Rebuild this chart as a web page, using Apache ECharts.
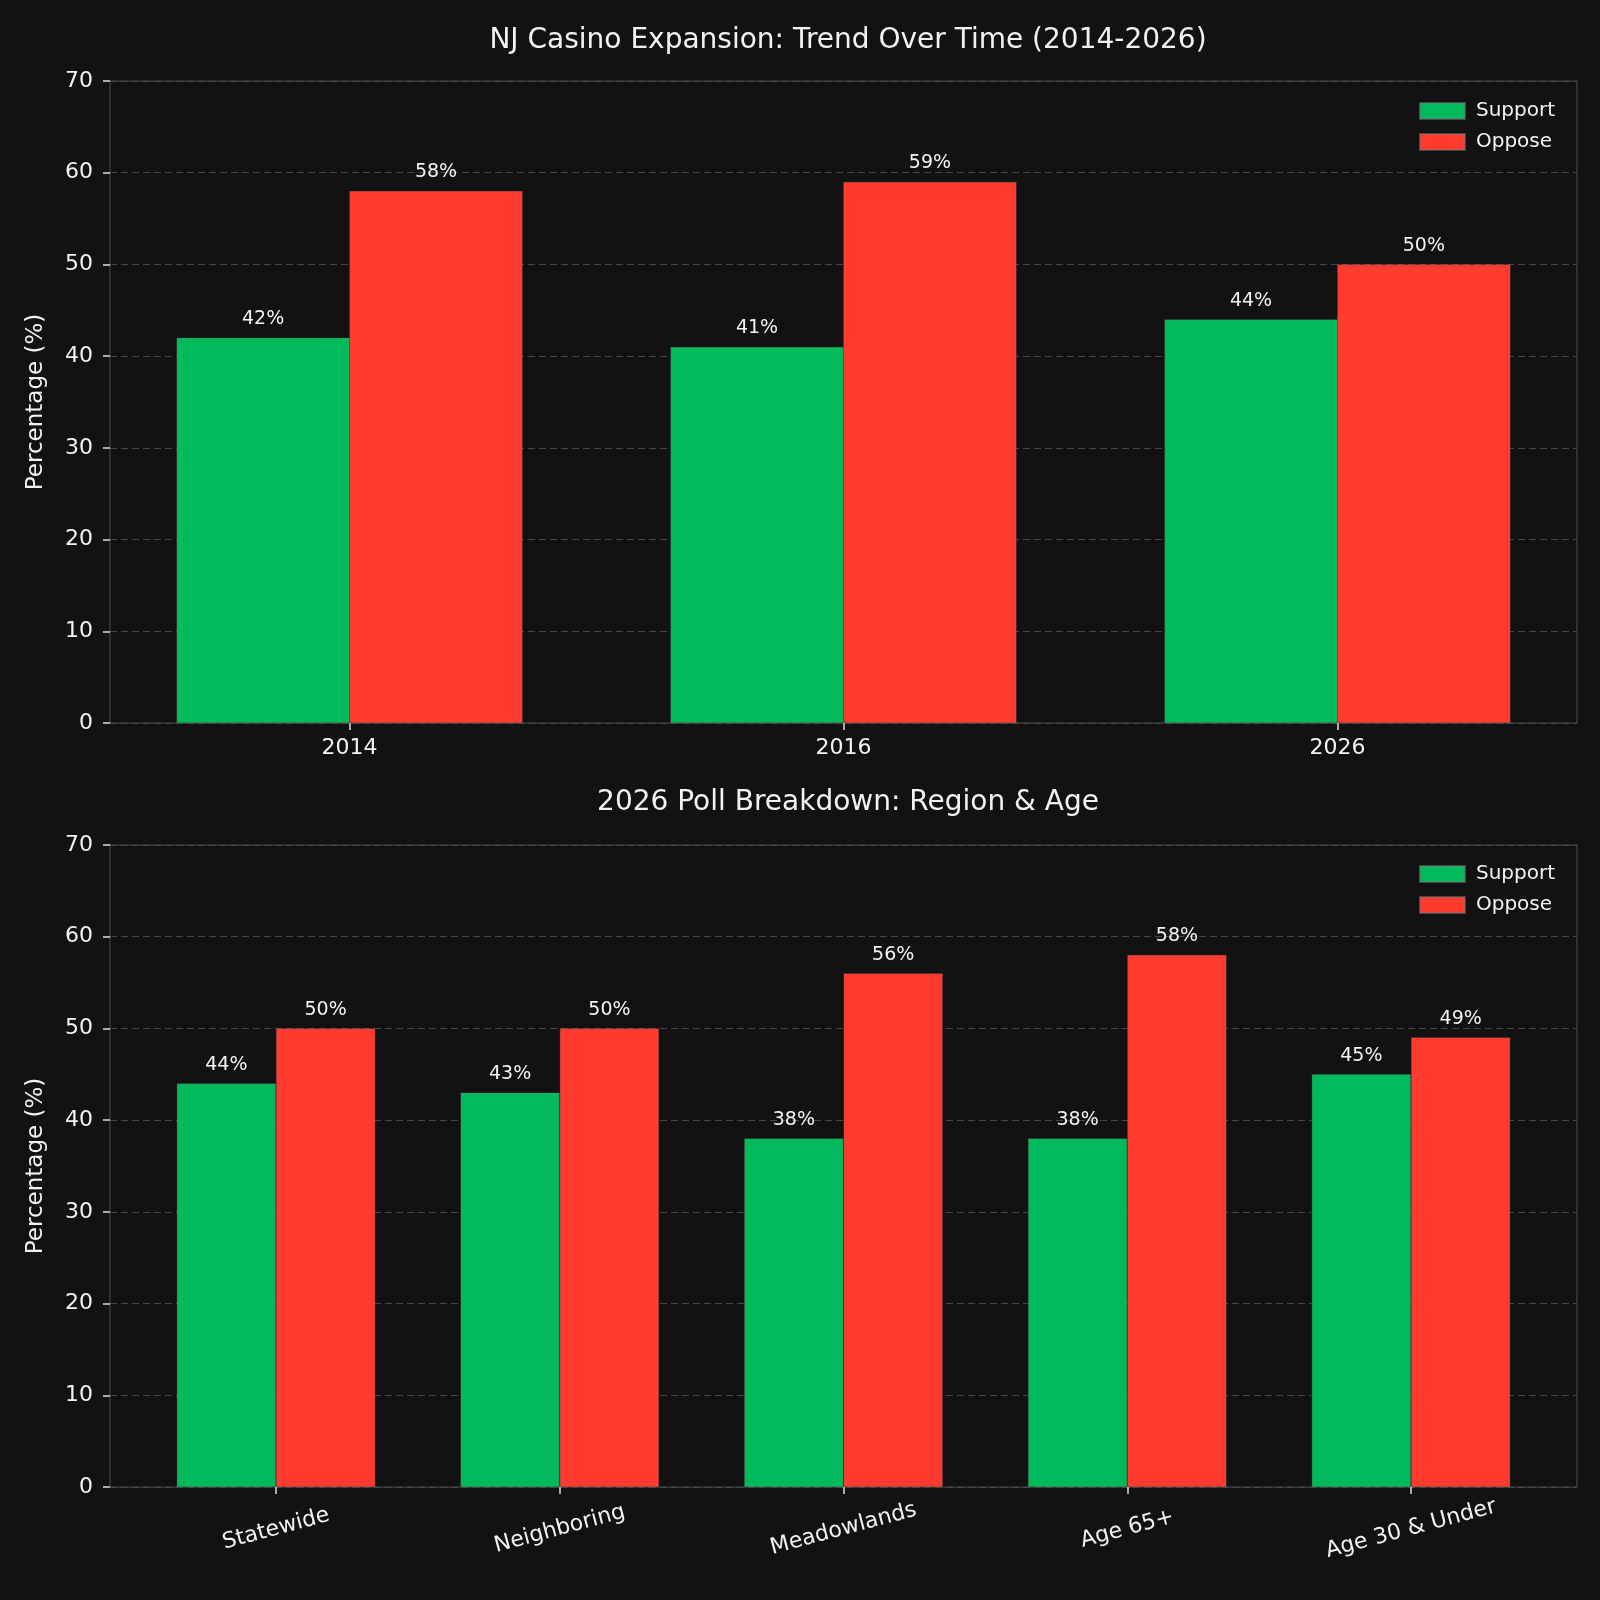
<!DOCTYPE html>
<html>
<head>
<meta charset="utf-8">
<script src="https://cdn.jsdelivr.net/npm/echarts@6/dist/echarts.min.js"></script>
<style>
html,body{margin:0;padding:0;background:#121212;}
#c{width:1600px;height:1600px;}
</style>
</head>
<body>
<div id="c"></div>
<script>
// ---- data ----
const trendCategories = ['2014', '2016', '2026'];
const trendSupport = [42, 41, 44];
const trendOppose = [58, 59, 50];

const breakdownCategories = ['Statewide', 'Neighboring', 'Meadowlands', 'Age 65+', 'Age 30 & Under'];
const breakdownSupport = [44, 43, 38, 38, 45];
const breakdownOppose = [50, 50, 56, 58, 49];

const yTicks = [0, 10, 20, 30, 40, 50, 60, 70];

// ---- style ----
const FONT = 'DejaVu Sans';
const BG = '#121212';
const GREEN = '#02BA5C';
const RED = '#FF3B30';
const TXT = '#f2f2f2';
const HALF = 0.175; // half of bar width in category units

const chart = echarts.init(document.getElementById('c'), null, {renderer: 'canvas'});

function xAxisFor(idx, cats, min, max, rotate) {
  const vals = cats.map((_, i) => i);
  return {
    gridIndex: idx, type: 'value', min: min, max: max,
    axisLine: {show: false, onZero: false},
    splitLine: {show: false},
    axisTick: {show: true, customValues: vals, length: 7, lineStyle: {color: '#e0e0e0', width: 1.5}},
    axisLabel: {
      customValues: vals,
      formatter: v => cats[Math.round(v)],
      color: TXT, fontFamily: FONT, fontSize: 22,
      margin: rotate ? 42 : 14,
      rotate: rotate || 0,
      align: 'center',
      verticalAlign: rotate ? 'middle' : 'top'
    }
  };
}

function yAxisFor(idx) {
  return {
    gridIndex: idx, type: 'value', min: yTicks[0], max: yTicks[yTicks.length - 1], interval: 10,
    name: 'Percentage (%)', nameLocation: 'middle', nameGap: 62, nameRotate: 90,
    nameTextStyle: {color: TXT, fontFamily: FONT, fontSize: 23},
    axisLine: {show: false, onZero: false},
    axisTick: {show: true, length: 7, lineStyle: {color: '#e0e0e0', width: 1.5}},
    axisLabel: {color: TXT, fontFamily: FONT, fontSize: 22, margin: 17},
    splitLine: {show: true, lineStyle: {color: '#474747', type: [7, 4], width: 1.2}}
  };
}

function barSeries(name, idx, vals, offset, color, width) {
  return {
    name: name, type: 'bar', xAxisIndex: idx, yAxisIndex: idx,
    data: vals.map((v, i) => [i + offset, v]),
    barWidth: width, barGap: '-100%',
    itemStyle: {color: color, borderColor: 'rgba(120,120,120,0.5)', borderWidth: 0.5},
    label: {show: true, position: 'top', distance: 9, formatter: p => p.value[1] + '%',
      color: TXT, fontFamily: FONT, fontSize: 19}
  };
}

const legendCommon = {
  orient: 'vertical', right: 40, itemWidth: 45, itemHeight: 16, itemGap: 11,
  icon: 'rect', textStyle: {color: TXT, fontFamily: FONT, fontSize: 20, padding: [0, 0, 0, 6]},
  data: ['Support', 'Oppose']
};

chart.setOption({
  backgroundColor: BG,
  animation: false,
  title: [
    {text: 'NJ Casino Expansion: Trend Over Time (2014-2026)', left: 843, textAlign: 'center', top: 22,
      textStyle: {color: TXT, fontFamily: FONT, fontSize: 28, fontWeight: 'normal'}},
    {text: '2026 Poll Breakdown: Region & Age', left: 843, textAlign: 'center', top: 784,
      textStyle: {color: TXT, fontFamily: FONT, fontSize: 28, fontWeight: 'normal'}}
  ],
  legend: [
    Object.assign({}, legendCommon, {top: 96}),
    Object.assign({}, legendCommon, {top: 859})
  ],
  grid: [
    {left: 110, right: 23, top: 81, height: 642, show: true, borderColor: '#3a3a3a', borderWidth: 1.5, backgroundColor: 'transparent'},
    {left: 110, right: 23, top: 845, height: 642, show: true, borderColor: '#3a3a3a', borderWidth: 1.5, backgroundColor: 'transparent'}
  ],
  xAxis: [
    xAxisFor(0, trendCategories, -0.485, 2.485, 0),
    xAxisFor(1, breakdownCategories, -0.585, 4.585, 15)
  ],
  yAxis: [yAxisFor(0), yAxisFor(1)],
  series: [
    barSeries('Support', 0, trendSupport, -HALF, GREEN, 173),
    barSeries('Oppose', 0, trendOppose, HALF, RED, 173),
    barSeries('Support', 1, breakdownSupport, -HALF, GREEN, 99),
    barSeries('Oppose', 1, breakdownOppose, HALF, RED, 99)
  ]
});
</script>
</body>
</html>
